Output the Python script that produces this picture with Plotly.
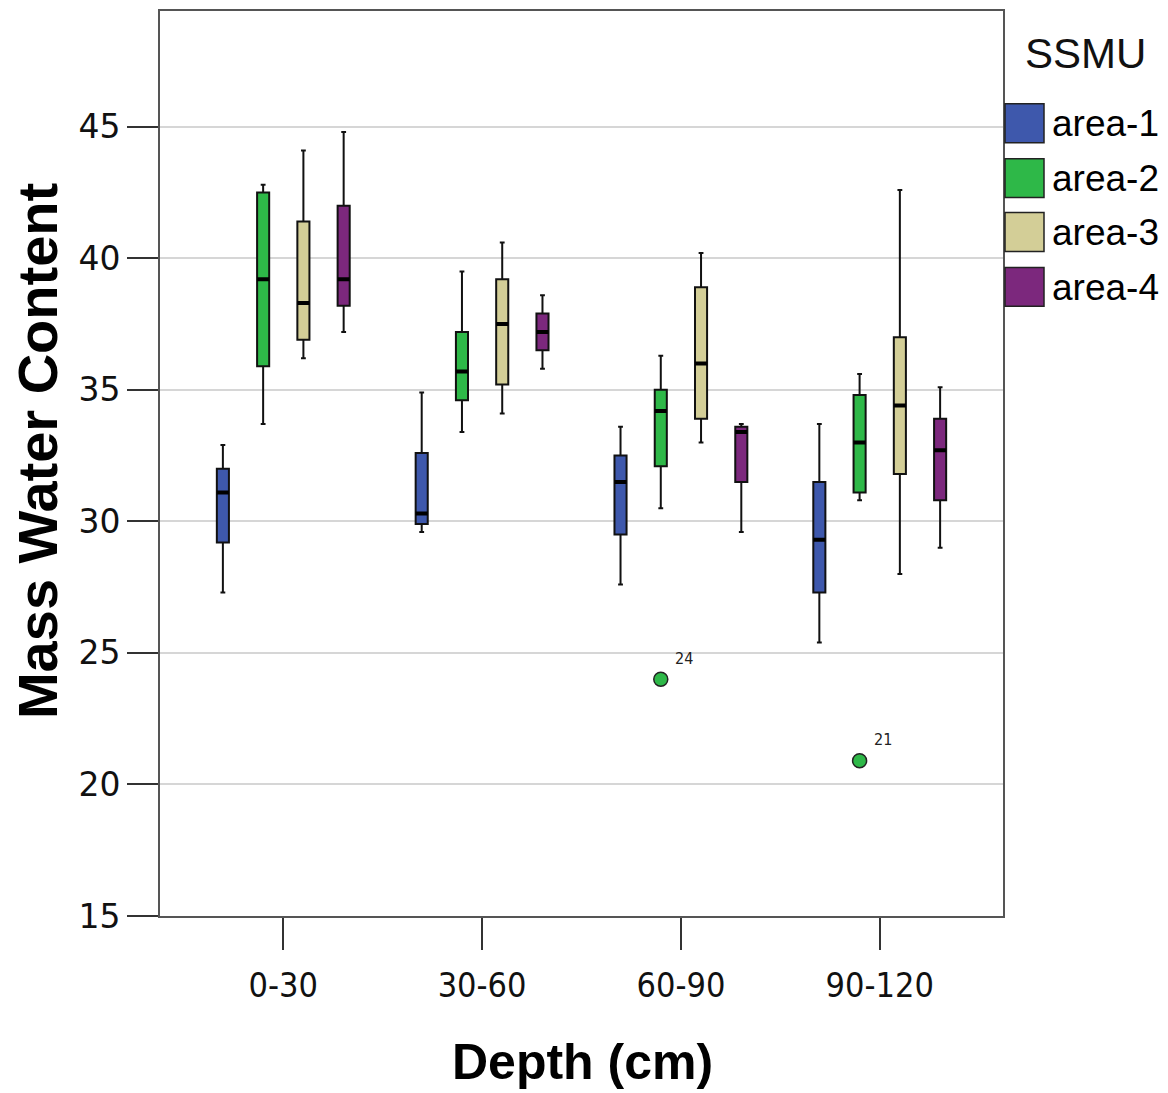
import plotly.graph_objects as go

# ---------------- data ----------------
categories = ["0-30", "30-60", "60-90", "90-120"]
areas = ["area-1", "area-2", "area-3", "area-4"]

a1_low = [27.3, 29.6, 27.6, 25.4]
a1_q1 = [29.2, 29.9, 29.5, 27.3]
a1_med = [31.1, 30.3, 31.5, 29.3]
a1_q3 = [32.0, 32.6, 32.5, 31.5]
a1_up = [32.9, 34.9, 33.6, 33.7]

a2_low = [33.7, 33.4, 30.5, 30.8]
a2_q1 = [35.9, 34.6, 32.1, 31.1]
a2_med = [39.2, 35.7, 34.2, 33.0]
a2_q3 = [42.5, 37.2, 35.0, 34.8]
a2_up = [42.8, 39.5, 36.3, 35.6]
# area-2 outliers (case numbers shown as labels)
a2_out_depth = ["60-90", "90-120"]
a2_out_value = [24.0, 20.9]
a2_out_case = ["24", "21"]

a3_low = [36.2, 34.1, 33.0, 28.0]
a3_q1 = [36.9, 35.2, 33.9, 31.8]
a3_med = [38.3, 37.5, 36.0, 34.4]
a3_q3 = [41.4, 39.2, 38.9, 37.0]
a3_up = [44.1, 40.6, 40.2, 42.6]

a4_low = [37.2, 35.8, 29.6, 29.0]
a4_q1 = [38.2, 36.5, 31.5, 30.8]
a4_med = [39.2, 37.2, 33.4, 32.7]
a4_q3 = [42.0, 37.9, 33.6, 33.9]
a4_up = [44.8, 38.6, 33.7, 35.1]

y_ticks = [15, 20, 25, 30, 35, 40, 45]

colors = ["#3E58AC", "#2EB848", "#D3CE97", "#7C287D"]

stats = [
    (a1_low, a1_q1, a1_med, a1_q3, a1_up),
    (a2_low, a2_q1, a2_med, a2_q3, a2_up),
    (a3_low, a3_q1, a3_med, a3_q3, a3_up),
    (a4_low, a4_q1, a4_med, a4_q3, a4_up),
]

# ---------------- layout constants ----------------
W, H = 1168, 1093
ML, MR, MT, MB = 160, 165, 9, 177
PW, PH = W - ML - MR, H - MT - MB
BOXGAP = 0.19
BOXGROUPGAP = 0.70


def px_x(px):
    return (px - ML) / PW


def px_y(py):
    return (H - MB - py) / PH


fig = go.Figure()

for name, col, (lo, q1, med, q3, up) in zip(areas, colors, stats):
    fig.add_trace(go.Box(
        name=name,
        x=categories,
        q1=q1, median=med, q3=q3,
        lowerfence=lo, upperfence=up,
        fillcolor=col,
        line=dict(color="#111111", width=2),
        whiskerwidth=0.4,
        boxpoints=False,
        offsetgroup=name,
        showlegend=False,
        hoverinfo="skip",
    ))

# thick SPSS-style median bars, in the same slots as the boxes
for name, (lo, q1, med, q3, up) in zip(areas, stats):
    fig.add_trace(go.Box(
        name=name + " median",
        x=categories,
        q1=med, median=med, q3=med,
        lowerfence=med, upperfence=med,
        fillcolor="rgba(0,0,0,0)",
        line=dict(color="#000000", width=4),
        whiskerwidth=0,
        boxpoints=False,
        offsetgroup=name,
        showlegend=False,
        hoverinfo="skip",
    ))

# outliers of area-2, drawn in the same offset slot as the area-2 boxes
fig.add_trace(go.Box(
    name="area-2 outliers",
    x=a2_out_depth,
    y=a2_out_value,
    offsetgroup="area-2",
    boxpoints="all", pointpos=0, jitter=0,
    fillcolor="rgba(0,0,0,0)",
    line=dict(color="rgba(0,0,0,0)", width=0),
    whiskerwidth=0,
    marker=dict(color=colors[1], size=14, line=dict(color="#222222", width=1.5)),
    showlegend=False,
    hoverinfo="skip",
))

# outlier case labels
a2_offset = (-0.5 + (1 + 0.5) / 4) * (1 - BOXGAP)
annotations = []
for d, v, lab in zip(a2_out_depth, a2_out_value, a2_out_case):
    annotations.append(dict(
        x=categories.index(d) + a2_offset, y=v, xref="x", yref="y", text=lab,
        showarrow=False, xshift=23, yshift=21,
        font=dict(family="DejaVu Sans Condensed, Liberation Sans Narrow, DejaVu Sans", size=16, color="#222222"),
    ))

# axis titles
annotations.append(dict(
    x=px_x(37), y=px_y(450), xref="paper", yref="paper",
    xanchor="center", yanchor="middle",
    text="<b>Mass Water Content</b>", textangle=-90, showarrow=False,
    font=dict(family="Liberation Sans, Arial", size=56, color="#000000"),
))
annotations.append(dict(
    x=px_x(582), y=px_y(1062), xref="paper", yref="paper",
    xanchor="center", yanchor="middle",
    text="<b>Depth (cm)</b>", showarrow=False,
    font=dict(family="Liberation Sans, Arial", size=50, color="#000000"),
))

# legend (SPSS-like large swatches)
annotations.append(dict(
    x=px_x(1085), y=px_y(52), xref="paper", yref="paper",
    text="SSMU", showarrow=False, xanchor="center", yanchor="middle",
    font=dict(family="Liberation Sans, Arial", size=42, color="#111111"),
))
shapes = []
sw_tops = [102, 157, 211, 266]
for name, col, top in zip(areas, colors, sw_tops):
    shapes.append(dict(
        type="rect", xref="paper", yref="paper",
        x0=px_x(1005), x1=px_x(1044), y0=px_y(top + 39), y1=px_y(top),
        fillcolor=col, line=dict(color="#222222", width=1.5), layer="above",
    ))
    annotations.append(dict(
        x=px_x(1050), y=px_y(top + 20), xref="paper", yref="paper",
        text=name, showarrow=False, xanchor="left", yanchor="middle",
        font=dict(family="Liberation Sans, Arial", size=37, color="#000000"),
    ))

fig.update_layout(
    width=W, height=H,
    margin=dict(l=ML, r=MR, t=MT, b=MB, pad=0),
    paper_bgcolor="white", plot_bgcolor="white",
    boxmode="group", boxgap=BOXGAP, boxgroupgap=BOXGROUPGAP,
    showlegend=False,
    annotations=annotations,
    shapes=shapes,
)

fig.update_xaxes(
    type="category", categoryorder="array", categoryarray=categories,
    range=[-0.62, 3.62],
    showgrid=False, zeroline=False,
    showline=True, linecolor="#555555", linewidth=2, mirror=True,
    ticks="outside", ticklen=32, tickwidth=1.5, tickcolor="#333333",
    ticklabelstandoff=6,
    tickfont=dict(family="DejaVu Sans Condensed, Liberation Sans Narrow, DejaVu Sans", size=34, color="#111111"),
)
fig.update_yaxes(
    range=[15, 49.4],
    tickvals=y_ticks, ticktext=[str(v) for v in y_ticks],
    showgrid=True, gridcolor="#D6D6D6", gridwidth=1.5, zeroline=False,
    showline=True, linecolor="#555555", linewidth=2, mirror=True,
    ticks="outside", ticklen=31, tickwidth=1.5, tickcolor="#333333",
    tickfont=dict(family="DejaVu Sans, Verdana", size=33, color="#111111"),
)

fig.write_html("out.html")
